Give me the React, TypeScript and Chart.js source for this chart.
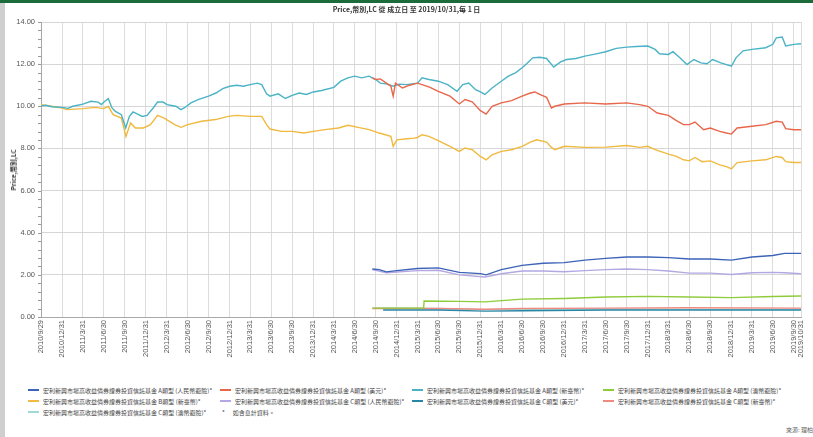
import React, { useEffect, useRef } from "react";
import { Chart, registerables } from "chart.js";
Chart.register(...registerables);

const FUND = "宏利新興市場高收益債券證券投資信託基金";
const TITLE = "Price,幣別,LC 從 成立日 至 2019/10/31,每 1 日";
const Y_TITLE = "Price,幣別,LC";
const NOTE = "如含息計資料。";
const SOURCE = "來源: 理柏";

const tickDates = [
  "2010/9/29", "2010/12/31",
  "2011/3/31", "2011/6/30", "2011/9/30", "2011/12/31",
  "2012/3/31", "2012/6/30", "2012/9/30", "2012/12/31",
  "2013/3/31", "2013/6/30", "2013/9/30", "2013/12/31",
  "2014/3/31", "2014/6/30", "2014/9/30", "2014/12/31",
  "2015/3/31", "2015/6/30", "2015/9/30", "2015/12/31",
  "2016/3/31", "2016/6/30", "2016/9/30", "2016/12/31",
  "2017/3/31", "2017/6/30", "2017/9/30", "2017/12/31",
  "2018/3/31", "2018/6/30", "2018/9/30", "2018/12/31",
  "2019/3/31", "2019/6/30", "2019/9/30", "2019/10/31",
];

// A類型 (新臺幣)
const aTwdDates = ["2010-09-29","2010-10-20","2010-11-15","2010-12-31","2011-01-25","2011-02-15","2011-03-31","2011-05-05","2011-06-05","2011-06-20","2011-07-01","2011-07-20","2011-08-05","2011-08-20","2011-09-15","2011-10-04","2011-10-20","2011-11-05","2011-11-25","2011-12-15","2012-01-05","2012-02-01","2012-02-20","2012-03-15","2012-04-01","2012-05-10","2012-06-01","2012-06-15","2012-07-15","2012-08-15","2012-09-30","2012-11-01","2012-12-01","2012-12-31","2013-01-31","2013-03-01","2013-03-31","2013-04-30","2013-05-20","2013-06-10","2013-06-25","2013-07-31","2013-08-31","2013-09-30","2013-10-31","2013-12-01","2013-12-31","2014-02-05","2014-03-31","2014-04-30","2014-05-31","2014-06-30","2014-07-31","2014-08-31","2014-09-30","2014-10-20","2014-11-20","2014-12-15","2015-01-10","2015-02-10","2015-03-31","2015-04-20","2015-05-20","2015-06-30","2015-08-10","2015-09-20","2015-10-15","2015-11-10","2015-12-10","2015-12-31","2016-01-20","2016-02-20","2016-03-31","2016-05-01","2016-06-01","2016-06-30","2016-07-20","2016-08-15","2016-09-15","2016-10-15","2016-11-15","2016-12-15","2017-01-10","2017-02-20","2017-03-31","2017-05-20","2017-06-30","2017-08-15","2017-09-30","2017-11-10","2017-12-31","2018-02-01","2018-02-20","2018-03-31","2018-04-20","2018-05-20","2018-06-20","2018-07-20","2018-08-20","2018-09-15","2018-10-10","2018-11-15","2018-12-31","2019-01-20","2019-02-20","2019-03-31","2019-05-30","2019-06-30","2019-07-15","2019-08-10","2019-08-25","2019-09-30","2019-10-31"];
const aTwdValues = [10.02,10.05,9.98,9.95,9.9,10.0,10.1,10.24,10.2,10.08,10.2,10.36,9.92,9.76,9.6,8.97,9.52,9.73,9.63,9.52,9.57,9.92,10.2,10.2,10.08,10.0,9.84,9.92,10.16,10.32,10.48,10.63,10.84,10.95,11.0,10.95,11.03,11.1,11.03,10.59,10.48,10.59,10.37,10.52,10.63,10.56,10.68,10.75,10.9,11.19,11.35,11.43,11.35,11.43,11.27,11.1,11.05,10.95,11.05,11.03,11.1,11.35,11.27,11.19,11.03,10.71,11.03,11.1,10.79,10.68,10.56,10.87,11.19,11.43,11.59,11.83,12.02,12.3,12.33,12.27,11.86,12.11,12.22,12.27,12.38,12.49,12.59,12.75,12.81,12.84,12.86,12.7,12.49,12.46,12.59,12.3,11.98,12.22,12.06,12.02,12.22,12.06,11.9,12.3,12.63,12.7,12.78,12.94,13.25,13.29,12.86,12.94,12.97];

// B類型 (新臺幣)
const bTwdDates = ["2010-09-29","2010-11-15","2010-12-31","2011-01-20","2011-03-31","2011-05-25","2011-06-30","2011-07-20","2011-08-10","2011-09-15","2011-10-05","2011-10-25","2011-11-15","2011-12-20","2012-01-20","2012-02-20","2012-03-20","2012-05-05","2012-06-01","2012-07-01","2012-08-30","2012-10-30","2012-12-25","2013-01-31","2013-03-31","2013-05-20","2013-06-10","2013-06-25","2013-08-15","2013-09-30","2013-11-20","2013-12-31","2014-02-20","2014-04-20","2014-06-01","2014-07-15","2014-09-01","2014-10-15","2014-12-05","2014-12-15","2014-12-31","2015-02-15","2015-03-15","2015-03-31","2015-04-20","2015-05-20","2015-06-30","2015-08-20","2015-09-30","2015-10-25","2015-11-25","2015-12-31","2016-01-25","2016-02-20","2016-03-31","2016-05-15","2016-06-30","2016-08-05","2016-09-01","2016-10-15","2016-11-05","2016-11-20","2016-12-31","2017-03-31","2017-06-30","2017-09-30","2017-11-25","2017-12-31","2018-02-01","2018-03-31","2018-05-05","2018-06-05","2018-06-30","2018-07-25","2018-08-25","2018-09-30","2018-11-10","2018-12-10","2018-12-31","2019-01-25","2019-03-31","2019-05-30","2019-07-15","2019-08-10","2019-08-25","2019-09-30","2019-10-31"];
const bTwdValues = [10.08,10.0,9.92,9.84,9.89,9.95,9.89,10.0,9.6,9.44,8.57,9.21,8.97,8.97,9.13,9.57,9.44,9.13,9.0,9.13,9.29,9.37,9.52,9.57,9.52,9.52,9.13,8.92,8.81,8.81,8.73,8.81,8.89,8.97,9.1,9.0,8.89,8.73,8.57,8.1,8.41,8.46,8.49,8.52,8.65,8.57,8.37,8.1,7.86,8.02,7.94,7.62,7.46,7.7,7.86,7.94,8.1,8.3,8.41,8.3,8.05,7.94,8.1,8.05,8.06,8.14,8.05,8.1,7.94,7.73,7.62,7.46,7.41,7.57,7.37,7.41,7.22,7.14,7.03,7.33,7.41,7.46,7.62,7.57,7.37,7.33,7.33];

// A類型 (美元)
const aUsdDates = ["2014-09-15","2014-09-30","2014-10-20","2014-11-15","2014-12-05","2014-12-15","2014-12-25","2015-01-25","2015-02-25","2015-03-31","2015-04-20","2015-05-25","2015-06-30","2015-08-20","2015-09-30","2015-10-25","2015-11-25","2015-12-31","2016-01-25","2016-02-20","2016-03-31","2016-05-15","2016-06-30","2016-08-05","2016-08-25","2016-09-15","2016-10-15","2016-11-05","2016-11-20","2016-12-31","2017-03-31","2017-06-30","2017-09-30","2017-11-25","2017-12-31","2018-02-10","2018-03-31","2018-05-05","2018-06-05","2018-06-30","2018-07-25","2018-09-01","2018-09-30","2018-11-10","2018-12-10","2018-12-31","2019-01-25","2019-03-31","2019-05-30","2019-07-15","2019-08-10","2019-08-25","2019-09-30","2019-10-31"];
const aUsdValues = [11.35,11.27,11.3,11.1,10.95,10.48,11.1,10.87,11.0,11.1,11.03,10.9,10.71,10.48,10.11,10.32,10.21,9.79,9.63,10.0,10.16,10.27,10.48,10.63,10.68,10.56,10.43,9.92,10.0,10.11,10.16,10.11,10.16,10.08,10.0,9.68,9.57,9.32,9.13,9.13,9.25,8.89,8.97,8.81,8.73,8.68,8.97,9.05,9.13,9.29,9.25,8.94,8.89,8.89];

// A類型 (人民幣避險)
const aCnyDates = ["2014-09-15","2014-10-15","2014-11-15","2014-12-31","2015-03-31","2015-06-30","2015-09-30","2015-12-31","2016-01-25","2016-03-31","2016-06-30","2016-09-30","2016-12-31","2017-03-31","2017-06-30","2017-09-30","2017-12-31","2018-03-31","2018-06-30","2018-09-30","2018-12-31","2019-03-31","2019-06-30","2019-08-20","2019-10-31"];
const aCnyValues = [2.28,2.25,2.14,2.2,2.3,2.33,2.12,2.06,2.0,2.25,2.45,2.55,2.58,2.7,2.78,2.85,2.85,2.82,2.75,2.75,2.7,2.85,2.92,3.02,3.02];

// C類型 (人民幣避險)
const cCnyDates = ["2014-09-15","2014-11-15","2015-03-31","2015-06-30","2015-09-30","2016-01-20","2016-03-31","2016-06-30","2016-09-30","2016-12-31","2017-03-31","2017-06-30","2017-09-30","2017-12-31","2018-03-31","2018-06-30","2018-09-30","2018-12-31","2019-03-31","2019-06-30","2019-08-20","2019-10-31"];
const cCnyValues = [2.25,2.1,2.2,2.22,2.0,1.9,2.05,2.18,2.18,2.15,2.2,2.25,2.28,2.25,2.18,2.08,2.08,2.02,2.1,2.12,2.1,2.05];

// A類型 (澳幣避險)
const aAudDates = ["2014-09-15","2015-04-27","2015-04-29","2015-09-30","2016-01-20","2016-06-30","2016-12-31","2017-06-30","2017-12-31","2018-06-30","2018-12-31","2019-06-30","2019-10-31"];
const aAudValues = [0.42,0.42,0.76,0.74,0.72,0.85,0.88,0.95,0.98,0.95,0.92,0.97,1.0];

// C類型 (美元)
const cUsdDates = ["2014-11-01","2015-06-30","2016-01-20","2016-06-30","2017-06-30","2018-06-30","2019-10-31"];
const cUsdValues = [0.33,0.33,0.28,0.3,0.33,0.33,0.33];

// C類型 (新臺幣)
const cTwdDates = ["2014-09-15","2015-06-30","2016-01-20","2016-06-30","2017-06-30","2018-06-30","2019-10-31"];
const cTwdValues = [0.4,0.4,0.37,0.4,0.42,0.44,0.42];

// C類型 (澳幣避險)
const cAudDates = ["2014-09-15","2015-06-30","2016-01-20","2016-06-30","2017-06-30","2018-06-30","2019-10-31"];
const cAudValues = [0.42,0.4,0.35,0.37,0.38,0.36,0.36];

const seriesNames = [
  "A類型 (人民幣避險)*", "A類型 (美元)*", "A類型 (新臺幣)*", "A類型 (澳幣避險)*",
  "B類型 (新臺幣)*", "C類型 (人民幣避險)*", "C類型 (美元)*", "C類型 (新臺幣)*",
  "C類型 (澳幣避險)*",
];
const seriesColors = [
  "#3d63b8", "#e8664a", "#4ab3c6", "#8fcc3c",
  "#f0b93f", "#b3a8e2", "#2a86a6", "#f08a80", "#9fd8d4",
];
const seriesDates = [aCnyDates, aUsdDates, aTwdDates, aAudDates, bTwdDates, cCnyDates, cUsdDates, cTwdDates, cAudDates];
const seriesValues = [aCnyValues, aUsdValues, aTwdValues, aAudValues, bTwdValues, cCnyValues, cUsdValues, cTwdValues, cAudValues];

const BASE = Date.UTC(2010, 8, 29);
function dayOf(s: string): number {
  const p = s.split(/[-/]/).map(Number);
  return Math.round((Date.UTC(p[0], p[1] - 1, p[2]) - BASE) / 86400000);
}

const W = 813;
const CH = 372;

export default function App() {
  const ref = useRef<HTMLCanvasElement | null>(null);
  useEffect(() => {
    document.body.style.margin = "0";
    const canvas = ref.current!;
    const tickMap = new Map<number, string>();
    tickDates.forEach((t) => tickMap.set(dayOf(t), t));
    const minorTicks = {
      id: "minorTicks",
      afterDraw(chart: any) {
        const ctx = chart.ctx;
        const y = chart.scales.y;
        const left = chart.chartArea.left;
        ctx.save();
        ctx.strokeStyle = "#9a9a9a";
        ctx.lineWidth = 1;
        for (let v = 0; v <= 14.001; v += 0.4) {
          const py = Math.round(y.getPixelForValue(v)) + 0.5;
          ctx.beginPath();
          ctx.moveTo(left - 3, py);
          ctx.lineTo(left, py);
          ctx.stroke();
        }
        ctx.restore();
      },
    };
    const chart = new Chart(canvas, {
      type: "line",
      data: {
        datasets: seriesNames.map((n, i) => ({
          label: FUND + " " + n,
          data: seriesDates[i].map((d, j) => ({ x: dayOf(d), y: seriesValues[i][j] })),
          borderColor: seriesColors[i],
          backgroundColor: seriesColors[i],
          borderWidth: 1.4,
          pointRadius: 0,
          tension: 0,
          fill: false,
        })),
      },
      options: {
        responsive: false,
        animation: false,
        devicePixelRatio: 1,
        layout: { padding: { top: 22, right: 8, left: 0, bottom: 0 } },
        plugins: { legend: { display: false }, title: { display: false }, tooltip: { enabled: false } },
        scales: {
          x: {
            type: "linear",
            min: 0,
            max: dayOf("2019-10-31"),
            afterBuildTicks: (scale: any) => {
              scale.ticks = tickDates.map((t) => ({ value: dayOf(t) }));
            },
            afterFit: (scale: any) => {
              scale.height = 55;
            },
            ticks: {
              autoSkip: false,
              maxRotation: 90,
              minRotation: 90,
              padding: 3,
              color: "#555",
              font: { family: "'Liberation Sans', sans-serif", size: 7.5 },
              callback: (v: any) => tickMap.get(Number(v)) ?? "",
            },
            grid: { color: "#dcdcdc", lineWidth: 1, drawTicks: false },
            border: { color: "#a8a8a8" },
          },
          y: {
            min: 0,
            max: 14,
            afterFit: (scale: any) => {
              scale.width = 41;
            },
            ticks: {
              stepSize: 2,
              padding: 6,
              color: "#555",
              font: { family: "'Liberation Sans', sans-serif", size: 7.5 },
              callback: (v: any) => Number(v).toFixed(2),
            },
            grid: { color: "#d6d6d6", lineWidth: 1, drawTicks: false },
            border: { color: "#a8a8a8" },
          },
        },
      },
      plugins: [minorTicks],
    } as any);
    return () => chart.destroy();
  }, []);

  const cjk = "'Noto Sans CJK TC', 'Noto Sans CJK SC', sans-serif";
  const colX = [28, 220, 412, 603];
  const rowY = [390, 401, 412];
  const legendPos = [
    [0, 0], [1, 0], [2, 0], [3, 0],
    [0, 1], [1, 1], [2, 1], [3, 1],
    [0, 2],
  ];

  return (
    <div style={{ position: "relative", width: W, height: 437, background: "#fff", overflow: "hidden" }}>
      <div style={{ position: "absolute", left: 0, top: 0, width: W, height: 3, background: "#1c6b3a" }} />
      <div style={{ position: "absolute", left: 0, top: 3, width: 5, height: 434, background: "#cfcfcf" }} />
      <canvas ref={ref} width={W} height={CH} style={{ position: "absolute", left: 0, top: 0, width: W, height: CH }} />
      <div
        style={{
          position: "absolute", left: 0, width: W, top: 4, textAlign: "center",
          fontFamily: cjk, fontWeight: "bold", fontSize: 7, color: "#333",
        }}
      >
        {TITLE}
      </div>
      <div
        style={{
          position: "absolute", left: 13, top: 170, transform: "translate(-50%, -50%) rotate(-90deg)",
          fontFamily: cjk, fontWeight: "bold", fontSize: 6.5, color: "#333", whiteSpace: "nowrap",
        }}
      >
        {Y_TITLE}
      </div>
      {seriesNames.map((n, i) => {
        const [c, r] = legendPos[i];
        return (
          <div
            key={n}
            style={{
              position: "absolute", left: colX[c], top: rowY[r] - 5, height: 10,
              display: "flex", alignItems: "center", whiteSpace: "nowrap",
              fontFamily: cjk, fontSize: 6, color: "#444",
            }}
          >
            <span style={{ display: "inline-block", width: 11, height: 2, background: seriesColors[i], marginRight: 4 }} />
            <span>{FUND + " " + n}</span>
          </div>
        );
      })}
      <div
        style={{
          position: "absolute", left: colX[1] + 2, top: rowY[2] - 5, height: 10,
          display: "flex", alignItems: "center", whiteSpace: "nowrap",
          fontFamily: cjk, fontSize: 6, color: "#444",
        }}
      >
        <span style={{ marginRight: 8 }}>*</span>
        <span>{NOTE}</span>
      </div>
      <div
        style={{
          position: "absolute", left: 786, top: 425, whiteSpace: "nowrap",
          fontFamily: cjk, fontSize: 6, color: "#666",
        }}
      >
        {SOURCE}
      </div>
    </div>
  );
}
